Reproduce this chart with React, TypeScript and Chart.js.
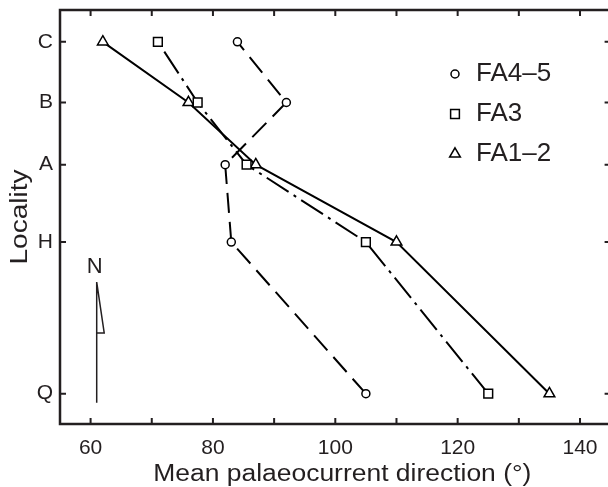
import React, { useEffect, useRef } from 'react';
import { Chart, registerables } from 'chart.js';
import { drawPoint } from 'chart.js/helpers';

Chart.register(...registerables);

// ---- data ----
const localities = ['Q', 'H', 'A', 'B', 'C'];
const localityPositions = [0, 50, 75.5, 96, 116];
const fa45 = [105, 83, 82, 92, 84];
const fa3 = [125, 105, 85.5, 77.5, 71];
const fa12 = [135, 110, 87, 76, 62];
const xTickValues = [60, 70, 80, 90, 100, 110, 120, 130, 140];
const xLabelStep = 20;
const seriesNames = ['FA4\u20135', 'FA3', 'FA1\u20132'];

const INK = '#231f20';
const FONT = '"Liberation Sans", Arial, sans-serif';

const toPoints = (vals: number[]) =>
  vals.map((v, i) => ({ x: v, y: localityPositions[i] }));

const decorPlugin = {
  id: 'decor',
  afterDraw(chart: any) {
    const { ctx, chartArea } = chart;
    const { left, right, top, bottom } = chartArea;
    const xs = chart.scales.x;
    const ys = chart.scales.y;
    ctx.save();
    ctx.strokeStyle = INK;
    ctx.fillStyle = INK;
    // frame
    ctx.lineWidth = 2.5;
    ctx.strokeRect(left, top, right - left, bottom - top);
    // inward ticks
    ctx.lineWidth = 2;
    ctx.beginPath();
    xTickValues.forEach((v) => {
      const px = xs.getPixelForValue(v);
      ctx.moveTo(px, bottom);
      ctx.lineTo(px, bottom - 6);
      ctx.moveTo(px, top);
      ctx.lineTo(px, top + 6);
    });
    localityPositions.forEach((v) => {
      const py = ys.getPixelForValue(v);
      ctx.moveTo(left, py);
      ctx.lineTo(left + 6, py);
      ctx.moveTo(right, py);
      ctx.lineTo(right - 6, py);
    });
    ctx.stroke();

    // axis titles
    ctx.font = `23px ${FONT}`;
    ctx.textAlign = 'center';
    ctx.textBaseline = 'alphabetic';
    ctx.save();
    ctx.translate((left + right) / 2 + 7, 481);
    ctx.scale(1.15, 1);
    ctx.fillText('Mean palaeocurrent direction (\u00b0)', 0, 0);
    ctx.restore();
    ctx.save();
    ctx.translate(27, (top + bottom) / 2);
    ctx.rotate(-Math.PI / 2);
    ctx.scale(1.22, 1);
    ctx.fillText('Locality', 0, 0);
    ctx.restore();

    // legend
    chart.data.datasets.forEach((ds: any, i: number) => {
      const ly = 74 + i * 40;
      ctx.save();
      ctx.fillStyle = '#fff';
      ctx.strokeStyle = '#000';
      ctx.lineWidth = 1.5;
      drawPoint(ctx, { pointStyle: ds.pointStyle, radius: ds.pointRadius, rotation: 0, borderWidth: 1.5 } as any, 455, ly);
      ctx.restore();
      ctx.font = `26px ${FONT}`;
      ctx.textAlign = 'left';
      ctx.textBaseline = 'middle';
      ctx.fillText(ds.label, 476, ly);
    });

    // north arrow
    const nx = xs.getPixelForValue(61);
    const nTop = ys.getPixelForValue(36.8);
    const nFlag = ys.getPixelForValue(20);
    const nBottom = ys.getPixelForValue(-3);
    ctx.lineWidth = 1.5;
    ctx.beginPath();
    ctx.moveTo(nx, nBottom);
    ctx.lineTo(nx, nTop);
    ctx.lineTo(nx + 7.5, nFlag);
    ctx.lineTo(nx, nFlag);
    ctx.stroke();
    ctx.font = `22px ${FONT}`;
    ctx.textAlign = 'center';
    ctx.textBaseline = 'alphabetic';
    ctx.fillText('N', nx - 2, nTop - 9);
    ctx.restore();
  },
};

export default function App() {
  const ref = useRef<HTMLCanvasElement>(null);
  useEffect(() => {
    const common = {
      showLine: true,
      borderColor: '#000',
      borderWidth: 2,
      pointBackgroundColor: '#fff',
      pointBorderColor: '#000',
      pointBorderWidth: 1.5,
      fill: false,
      tension: 0,
    };
    const chart = new Chart(ref.current!, {
      type: 'scatter',
      data: {
        datasets: [
          { ...common, label: seriesNames[0], data: toPoints(fa45), borderDash: [20, 9], pointStyle: 'circle', pointRadius: 4 },
          { ...common, label: seriesNames[1], data: toPoints(fa3), borderDash: [26, 6, 3, 6], pointStyle: 'rect', pointRadius: 6.2 },
          { ...common, label: seriesNames[2], data: toPoints(fa12), borderDash: [], pointStyle: 'triangle', pointRadius: 6.2 },
        ] as any,
      },
      options: {
        responsive: false,
        animation: false,
        devicePixelRatio: 1,
        layout: { padding: { top: 10, right: 9.4, left: 0, bottom: 0 } },
        plugins: { legend: { display: false }, tooltip: { enabled: false } },
        scales: {
          x: {
            type: 'linear',
            min: 55,
            max: 145,
            afterBuildTicks: (s: any) => {
              s.ticks = xTickValues.map((v) => ({ value: v }));
            },
            afterFit: (s: any) => {
              s.height = 63;
              s.paddingLeft = 0;
              s.paddingRight = 0;
              s.paddingTop = 0;
              s.paddingBottom = 0;
            },
            grid: { display: false, drawTicks: false },
            border: { display: false },
            ticks: {
              autoSkip: false,
              maxRotation: 0,
              padding: 12,
              color: INK,
              font: { family: FONT, size: 21 },
              callback: (v: any) => (Number(v) % xLabelStep === 0 ? String(v) : ''),
            },
          },
          y: {
            type: 'linear',
            min: -10,
            max: 126.5,
            afterBuildTicks: (s: any) => {
              s.ticks = localityPositions.map((v) => ({ value: v }));
            },
            afterFit: (s: any) => {
              s.width = 60;
              s.paddingLeft = 0;
              s.paddingRight = 0;
              s.paddingTop = 0;
              s.paddingBottom = 0;
            },
            grid: { display: false, drawTicks: false },
            border: { display: false },
            ticks: {
              autoSkip: false,
              padding: 7,
              color: INK,
              font: { family: FONT, size: 21 },
              callback: (v: any) => {
                const i = localityPositions.indexOf(Number(v));
                return i >= 0 ? localities[i] : '';
              },
            },
          },
        },
      },
      plugins: [decorPlugin],
    } as any);
    return () => chart.destroy();
  }, []);
  return (
    <div style={{ position: 'fixed', left: 0, top: 0, width: 608, height: 487, overflow: 'hidden', background: '#fff' }}>
      <canvas ref={ref} width={620} height={487} style={{ width: 620, height: 487, display: 'block' }} />
    </div>
  );
}
